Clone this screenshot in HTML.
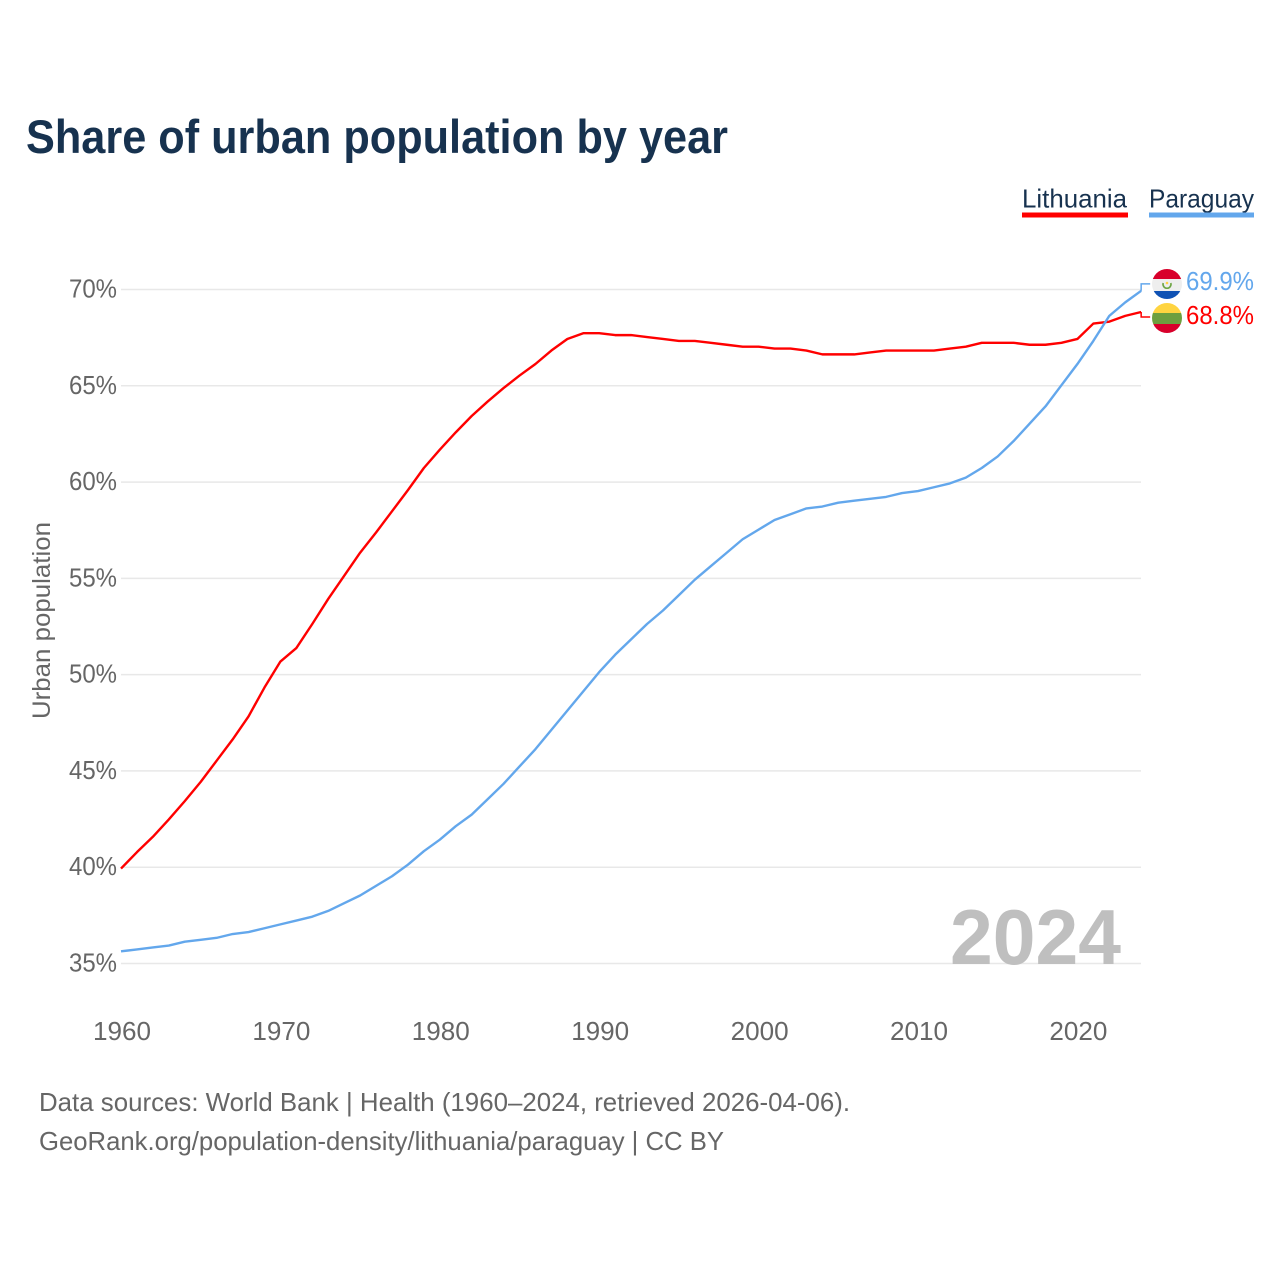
<!DOCTYPE html>
<html>
<head>
<meta charset="utf-8">
<title>Share of urban population by year</title>
<style>
html,body{margin:0;padding:0;background:#fff;}
svg{display:block;font-family:"Liberation Sans",sans-serif;}
</style>
</head>
<body>
<svg id="chart" width="1280" height="1280" viewBox="0 0 1280 1280" xmlns="http://www.w3.org/2000/svg">
<defs>
<clipPath id="clip-py"><circle cx="1167" cy="284" r="15"/></clipPath>
<clipPath id="clip-lt"><circle cx="1167" cy="318" r="15"/></clipPath>
</defs>
<rect width="1280" height="1280" fill="#fff"/>
<text x="26" y="153" font-size="47" font-weight="700" fill="#17324f" textLength="702" lengthAdjust="spacingAndGlyphs">Share of urban population by year</text>

<g>
<text x="1022" y="207.5" font-size="26" fill="#17324f" textLength="105" lengthAdjust="spacingAndGlyphs">Lithuania</text>
<rect x="1022" y="212.5" width="106" height="5" fill="#ff0000"/>
</g>
<g>
<text x="1149" y="207.5" font-size="26" fill="#17324f" textLength="105" lengthAdjust="spacingAndGlyphs">Paraguay</text>
<rect x="1149" y="212.5" width="105" height="5" fill="#63a7ec"/>
</g>

<g id="grid"></g>
<g id="yticks"></g>
<g id="xticks"></g>

<text transform="translate(50,620.5) rotate(-90)" text-anchor="middle" font-size="25" fill="#666" textLength="197" lengthAdjust="spacingAndGlyphs">Urban population</text>

<text x="950" y="964" font-size="78" font-weight="700" fill="#bfbfbf" textLength="171" lengthAdjust="spacingAndGlyphs">2024</text>

<g id="series" transform="translate(0,-0.6)"></g>

<g clip-path="url(#clip-py)">
<rect x="1152" y="269" width="30" height="10" fill="#d8002b"/>
<rect x="1152" y="279" width="30" height="12" fill="#eeeeee"/>
<rect x="1152" y="291" width="30" height="9" fill="#0f52b4"/>
<path d="M1163.2 283 A4 4 0 1 0 1170.8 283" fill="none" stroke="#6da544" stroke-width="1.6"/>
<circle cx="1167" cy="283" r="1.3" fill="#ffd23f"/>
</g>
<g clip-path="url(#clip-lt)">
<rect x="1152" y="303" width="30" height="10" fill="#ffd440"/>
<rect x="1152" y="313" width="30" height="11" fill="#6d9f3f"/>
<rect x="1152" y="324" width="30" height="10" fill="#d8002b"/>
</g>
<text id="value-py" x="1186" y="290" font-size="26" fill="#63a7ec" textLength="68" lengthAdjust="spacingAndGlyphs"></text>
<text id="value-lt" x="1186" y="324" font-size="26" fill="#ff0000" textLength="68" lengthAdjust="spacingAndGlyphs"></text>

<text x="39" y="1111" font-size="26" fill="#666" textLength="811" lengthAdjust="spacingAndGlyphs">Data sources: World Bank | Health (1960–2024, retrieved 2026-04-06).</text>
<text x="39" y="1150" font-size="26" fill="#666" textLength="685" lengthAdjust="spacingAndGlyphs">GeoRank.org/population-density/lithuania/paraguay | CC BY</text>
</svg>
<script>
const startYear = 1960;
const yTickValues = [35, 40, 45, 50, 55, 60, 65, 70];
const xTickYears = [1960, 1970, 1980, 1990, 2000, 2010, 2020];
const lithuaniaValues = [39.9,40.75,41.55,42.45,43.4,44.4,45.5,46.6,47.8,49.3,50.65,51.35,52.6,53.9,55.1,56.3,57.35,58.45,59.55,60.7,61.65,62.55,63.4,64.15,64.85,65.5,66.1,66.8,67.4,67.7,67.7,67.6,67.6,67.5,67.4,67.3,67.3,67.2,67.1,67.0,67.0,66.9,66.9,66.8,66.6,66.6,66.6,66.7,66.8,66.8,66.8,66.8,66.9,67.0,67.2,67.2,67.2,67.1,67.1,67.2,67.4,68.2,68.3,68.6,68.8];
const paraguayValues = [35.6,35.7,35.8,35.9,36.1,36.2,36.3,36.5,36.6,36.8,37.0,37.2,37.4,37.7,38.1,38.5,39.0,39.5,40.1,40.8,41.4,42.1,42.7,43.5,44.3,45.2,46.1,47.1,48.1,49.1,50.1,51.0,51.8,52.6,53.3,54.1,54.9,55.6,56.3,57.0,57.5,58.0,58.3,58.6,58.7,58.9,59.0,59.1,59.2,59.4,59.5,59.7,59.9,60.2,60.7,61.3,62.1,63.0,63.9,65.0,66.1,67.3,68.6,69.3,69.9];

const NS = 'http://www.w3.org/2000/svg';
function xScale(year) { return 121 + (year - 1960) * 15.94; }
function yScale(v) { return 963.5 - (v - 35) * 19.257; }
function make(tag, attrs, parent) {
  const el = document.createElementNS(NS, tag);
  for (const k in attrs) el.setAttribute(k, attrs[k]);
  parent.appendChild(el);
  return el;
}
const gridG = document.getElementById('grid');
const yG = document.getElementById('yticks');
const xG = document.getElementById('xticks');
const seriesG = document.getElementById('series');

yTickValues.forEach(function (v) {
  const line = make('line', {x1: 121, x2: 1141, y1: yScale(v), y2: yScale(v), stroke: '#e8e8e8', 'stroke-width': 1.5}, gridG);
  
  
  const t = make('text', {x: 69, y: yScale(v) + 8, 'font-size': 26, fill: '#666', textLength: 48, lengthAdjust: 'spacingAndGlyphs'}, yG);
  
  
  t.textContent = v + '%';
});
xTickYears.forEach(function (y) {
  const t = make('text', {x: xScale(y) - 28, y: 1040, 'font-size': 26, fill: '#666', textLength: 58, lengthAdjust: 'spacingAndGlyphs'}, xG);
  
  
  t.textContent = y;
});
function drawSeries(values, color, labelOffset, lineName, connName, labelId) {
  const pts = values.map(function (v, i) { return xScale(startYear + i).toFixed(2) + ',' + yScale(v).toFixed(2); });
  const line = make('polyline', {points: pts.join(' '), fill: 'none', stroke: color, 'stroke-width': 2.4, 'stroke-linejoin': 'round'}, seriesG);
  
  
  const last = values[values.length - 1];
  const ex = xScale(startYear + values.length - 1);
  const ey = yScale(last);
  const conn = make('polyline', {points: ex + ',' + ey + ' ' + ex + ',' + (ey + labelOffset) + ' ' + (ex + 9) + ',' + (ey + labelOffset), fill: 'none', stroke: color, 'stroke-width': 1.5}, seriesG);
  
  
  document.getElementById(labelId).textContent = last.toFixed(1) + '%';
}
drawSeries(lithuaniaValues, '#ff0000', 5, 'line-lithuania', 'connector-lithuania', 'value-lt');
drawSeries(paraguayValues, '#63a7ec', -7, 'line-paraguay', 'connector-paraguay', 'value-py');
</script>
</body>
</html>
